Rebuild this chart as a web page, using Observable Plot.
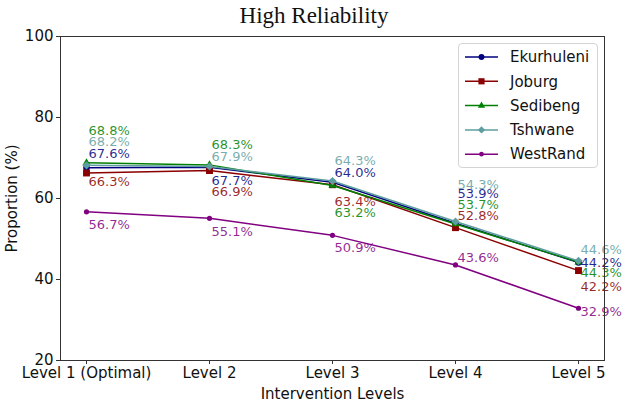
<!DOCTYPE html>
<html>
<head>
<meta charset="utf-8">
<script src="https://cdn.jsdelivr.net/npm/d3@7"></script>
<script src="https://cdn.jsdelivr.net/npm/@observablehq/plot@0.6"></script>
<style>
  body { margin: 0; background: #fff; }
  #chart { position: relative; width: 630px; height: 405px; font-family: "DejaVu Sans", sans-serif; background: #fff; }
  #title { position: absolute; left: 0; top: 1px; width: 628px; text-align: center; font-family: "Liberation Serif", serif; font-size: 23px; line-height: 30px; color: #111; }
  #plot { position: absolute; left: 0; top: 30px; }
  #legend { position: absolute; left: 458px; top: 43px; width: 138px; height: 123px; border: 1px solid #d4d4d4; border-radius: 4px; background: rgba(255,255,255,0.85); }
  #legend svg { display: block; }
</style>
</head>
<body>
<div id="chart">
  <div id="title">High Reliability</div>
  <div id="plot"></div>
  <div id="legend"></div>
</div>
<script>
// Intervention levels on the x axis
const levels = ["Level 1 (Optimal)", "Level 2", "Level 3", "Level 4", "Level 5"];
// Regions, one series each
const regions = ["Ekurhuleni", "Joburg", "Sedibeng", "Tshwane", "WestRand"];
// Proportion (%) of high-reliability outcomes per level
const ekurhuleni = [67.6, 67.7, 64.0, 53.9, 44.2];
const joburg     = [66.3, 66.9, 63.4, 52.8, 42.2];
const sedibeng   = [68.8, 68.3, 63.2, 53.7, 44.3];
const tshwane    = [68.2, 67.9, 64.3, 54.3, 44.6];
const westRand   = [56.7, 55.1, 50.9, 43.6, 32.9];
const yTicks = [20, 40, 60, 80, 100];

const seriesValues = [ekurhuleni, joburg, sedibeng, tshwane, westRand];

// Appearance of each series
const colors  = ["#000080", "#8b0000", "#008000", "#5f9ea0", "#800080"];
const symbols = ["circle", "square", "triangle", "diamond2", "circle"];
const radii   = [3.3, 3.9, 3.0, 3.7, 2.6];
const d3Symbols = {circle: d3.symbolCircle, square: d3.symbolSquare, triangle: d3.symbolTriangle, diamond2: d3.symbolDiamond2};
// Vertical nudges (px) keeping the value labels apart
const labelNudge = [
  [-14, 14, -9, -29, 0],
  [9, 21, 17, -12, 16],
  [-32, -20, 27, -19, 11],
  [-23, -10, -20, -37, -11],
  [13, 13, 12, -7, 4]
];

const rows = regions.map((region, i) =>
  levels.map((level, j) => ({region, level, value: seriesValues[i][j], nudge: labelNudge[i][j]}))
);

const seriesMarks = rows.flatMap((data, i) => [
  Plot.line(data, {x: "level", y: "value", stroke: colors[i], strokeWidth: 1.5}),
  Plot.dot(data, {x: "level", y: "value", symbol: () => symbols[i], r: radii[i], fill: colors[i], stroke: "none"})
]);

const labelMarks = rows.flatMap((data, i) =>
  data.map(d => Plot.text([d], {
    x: "level", y: "value",
    text: r => r.value.toFixed(1) + "%",
    dx: 2, dy: d.nudge,
    textAnchor: "start",
    fill: colors[i],
    fillOpacity: 0.85,
    fontSize: 13
  }))
);

const chart = Plot.plot({
  width: 630,
  height: 375,
  marginTop: 6,
  marginBottom: 45,
  marginLeft: 60,
  marginRight: 26,
  style: {fontFamily: "DejaVu Sans, sans-serif", fontSize: "15px", color: "#111", background: "white", overflow: "visible"},
  x: {type: "point", domain: levels, padding: 0.2},
  y: {domain: [20, 100]},
  symbol: {type: "identity"},
  marks: [
    Plot.axisX({tickSize: 4, tickPadding: 3, label: "Intervention Levels", labelAnchor: "center", labelOffset: 38, labelArrow: "none", stroke: "#333"}),
    Plot.axisY({ticks: yTicks, tickSize: 4, tickPadding: 3, label: "Proportion (%)", labelAnchor: "center", labelOffset: 54, labelArrow: "none", stroke: "#333"}),
    ...seriesMarks,
    ...labelMarks,
    Plot.frame({stroke: "#333", strokeWidth: 1})
  ]
});
document.getElementById("plot").appendChild(chart);

// Legend: line + marker swatch and region name
const legend = d3.select("#legend").append("svg").attr("width", 138).attr("height", 123);
const entry = legend.selectAll("g").data(regions).join("g")
  .attr("transform", (d, i) => `translate(0, ${13 + i * 24.3})`);
entry.append("line").attr("x1", 6).attr("x2", 39).attr("y1", 0).attr("y2", 0)
  .attr("stroke", (d, i) => colors[i]).attr("stroke-width", 1.5);
entry.append("path")
  .attr("transform", "translate(22.5,0)")
  .attr("d", (d, i) => d3.symbol(d3Symbols[symbols[i]], Math.PI * radii[i] * radii[i] * 0.8)())
  .attr("fill", (d, i) => colors[i]);
entry.append("text").attr("x", 51).attr("y", 0).attr("dy", "0.35em")
  .attr("font-size", 15).attr("fill", "#111").text(d => d);
</script>
</body>
</html>
